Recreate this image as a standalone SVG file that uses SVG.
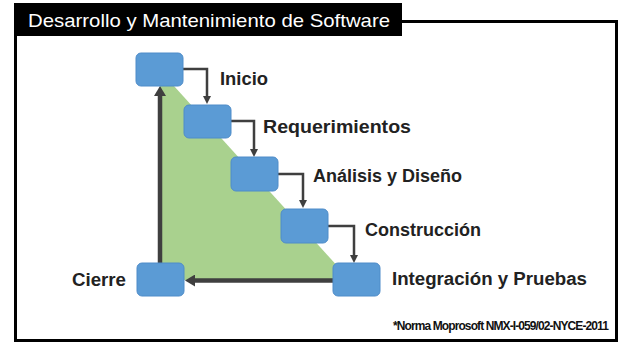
<svg xmlns="http://www.w3.org/2000/svg" width="620" height="343" viewBox="0 0 620 343">
<style>
.box{fill:#5B9BD5;stroke:#4F8CC9;stroke-width:1}
.lbl{font-family:"Liberation Sans",Arial,sans-serif;font-weight:bold;font-size:18px;fill:#222}
.step{fill:none;stroke:#3F3F3F;stroke-width:2.5}
.big{fill:none;stroke:#3F3F3F;stroke-width:4.5}
</style>
<defs>
<marker id="ah" markerUnits="userSpaceOnUse" markerWidth="8" markerHeight="8" refX="1" refY="4" orient="auto"><path d="M0,0 L8,4 L0,8 z" fill="#3F3F3F"/></marker>
<marker id="ahb" markerUnits="userSpaceOnUse" markerWidth="10" markerHeight="12" refX="1" refY="6" orient="auto"><path d="M0,0 L10,6 L0,12 z" fill="#3F3F3F"/></marker>
</defs>
<rect width="620" height="343" fill="#fff"/>
<g id="frame">
<rect x="15.5" y="21.5" width="601" height="319" fill="#fff" stroke="#000" stroke-width="3"/>
<rect x="14" y="3" width="388" height="33" fill="#000"/>
<text x="28" y="27" font-family="Liberation Sans,Arial,sans-serif" font-size="19px" fill="#fff" textLength="362" lengthAdjust="spacingAndGlyphs">Desarrollo y Mantenimiento de Software</text>
</g>
<polygon id="area" points="160,86 174,86 350,280 160,280" fill="#A9D18E"/>
<g id="connectors">
<path class="step" d="M183,69 H207 V97" marker-end="url(#ah)"/>
<path class="step" d="M231,121 H254 V150" marker-end="url(#ah)"/>
<path class="step" d="M278,174 H303 V201" marker-end="url(#ah)"/>
<path class="step" d="M328,226 H354 V256" marker-end="url(#ah)"/>
<path class="big" d="M160,263 V95" marker-end="url(#ahb)"/>
<path class="big" d="M333,280.5 H194" marker-end="url(#ahb)"/>
</g>
<g id="inicio"><rect class="box" x="136" y="53" width="47" height="33" rx="5"/><text class="lbl" x="220" y="85" textLength="48" lengthAdjust="spacingAndGlyphs">Inicio</text></g>
<g id="requerimientos"><rect class="box" x="184" y="105" width="47" height="33" rx="5"/><text class="lbl" x="263" y="133" textLength="148" lengthAdjust="spacingAndGlyphs">Requerimientos</text></g>
<g id="analisis"><rect class="box" x="231" y="157" width="47" height="34" rx="5"/><text class="lbl" x="313" y="182" textLength="149" lengthAdjust="spacingAndGlyphs">Análisis y Diseño</text></g>
<g id="construccion"><rect class="box" x="281" y="209" width="47" height="34" rx="5"/><text class="lbl" x="365" y="236" textLength="116" lengthAdjust="spacingAndGlyphs">Construcción</text></g>
<g id="integracion"><rect class="box" x="333" y="263" width="47" height="33" rx="5"/><text class="lbl" x="392" y="285" textLength="195" lengthAdjust="spacingAndGlyphs">Integración y Pruebas</text></g>
<g id="cierre"><rect class="box" x="137" y="263" width="47" height="33" rx="5"/><text class="lbl" x="72" y="286" textLength="54" lengthAdjust="spacingAndGlyphs">Cierre</text></g>
<text x="393" y="330" font-family="Liberation Sans,Arial,sans-serif" font-weight="bold" font-size="12px" letter-spacing="-0.9" fill="#111">*Norma Moprosoft NMX-I-059/02-NYCE-2011</text>
</svg>
